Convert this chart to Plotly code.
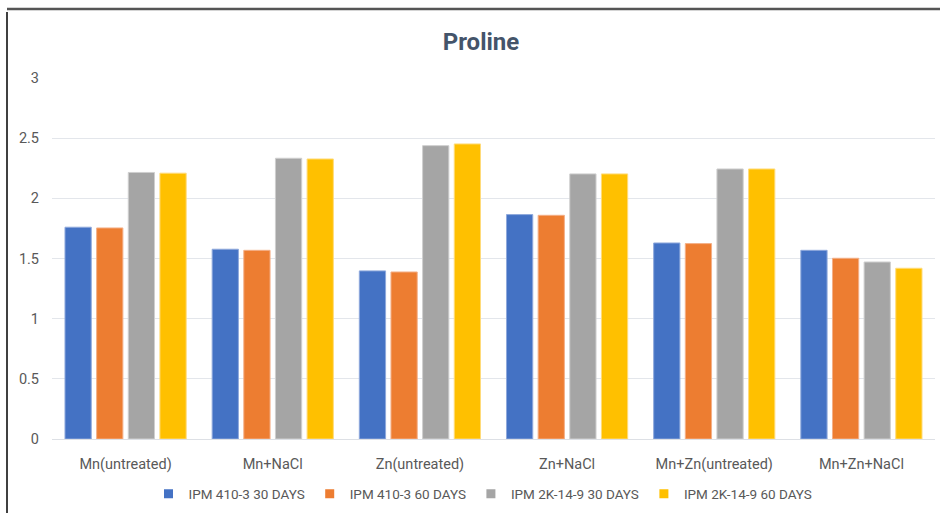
import plotly.graph_objects as go

categories = ["Mn(untreated)", "Mn+NaCl", "Zn(untreated)", "Zn+NaCl", "Mn+Zn(untreated)", "Mn+Zn+NaCl"]
series_names = ["IPM 410-3 30 DAYS", "IPM 410-3 60 DAYS", "IPM 2K-14-9 30 DAYS", "IPM 2K-14-9 60 DAYS"]
ipm410_30 = [1.76, 1.577, 1.397, 1.865, 1.629, 1.568]
ipm410_60 = [1.754, 1.568, 1.388, 1.859, 1.624, 1.502]
ipm2k_30 = [2.215, 2.333, 2.438, 2.203, 2.244, 1.471]
ipm2k_60 = [2.209, 2.327, 2.452, 2.203, 2.244, 1.419]
colors = ["#4472C4", "#ED7D31", "#A5A5A5", "#FFC000"]
line_colors = ["#8FA9DC", "#F4B088", "#CFCFCF", "#FFDB7A"]

fig = go.Figure()
for name, vals, c, lc in zip(series_names, [ipm410_30, ipm410_60, ipm2k_30, ipm2k_60], colors, line_colors):
    fig.add_trace(go.Bar(x=categories, y=vals, name=name, showlegend=False,
                         marker=dict(color=c, line=dict(color=lc, width=1))))
# legend entries with small square symbols
for name, c in zip(series_names, colors):
    fig.add_trace(go.Scatter(x=[None], y=[None], mode="markers", name=name,
                             marker=dict(symbol="square", size=9, color=c)))

W, H = 940, 513
L, R, T, B = 52, 5, 78, 74
pw = W - L - R
ph = H - T - B

fig.update_layout(
    width=W, height=H,
    margin=dict(l=L, r=R, t=T, b=B),
    paper_bgcolor="white", plot_bgcolor="white",
    font=dict(family="Roboto, Carlito, Calibri, sans-serif", color="#595959", size=14),
    title=dict(text="<b>Proline</b>", x=481 / W, xref="container", xanchor="center",
               y=1 - 42 / H, yref="container", yanchor="middle",
               font=dict(size=24, color="#44546A")),
    barmode="group", bargap=0.14, bargroupgap=0.17,
    xaxis=dict(showgrid=False, showline=True, linecolor="#DDE0E5", linewidth=1,
               ticks="", tickfont=dict(size=14.5, color="#595959"), ticklabelstandoff=12),
    yaxis=dict(range=[0, 3], dtick=0.5, showgrid=True, gridcolor="#E3E6EB", gridwidth=1,
               zeroline=False, showline=False, ticks="", tickfont=dict(size=14.5, color="#595959"),
               ticklabelstandoff=12),
    legend=dict(orientation="h", xref="container", x=483 / W, xanchor="center",
                yref="container", y=1 - 494 / H, yanchor="middle",
                font=dict(size=13.5, color="#595959"), itemwidth=30, traceorder="normal",
                tracegroupgap=0),
    showlegend=True,
)

# outer frame lines (left black, top gray)
fig.add_shape(type="line", xref="paper", yref="paper",
              x0=(7 - L) / pw, x1=(7 - L) / pw, y0=(H - T - H) / ph, y1=(H - T - 8) / ph,
              line=dict(color="#000000", width=1.5))
fig.add_shape(type="line", xref="paper", yref="paper",
              x0=(7 - L) / pw, x1=(W - L) / pw, y0=(H - B - 9) / ph, y1=(H - B - 9) / ph,
              line=dict(color="#555555", width=2.5))

fig.write_html("out.html")
